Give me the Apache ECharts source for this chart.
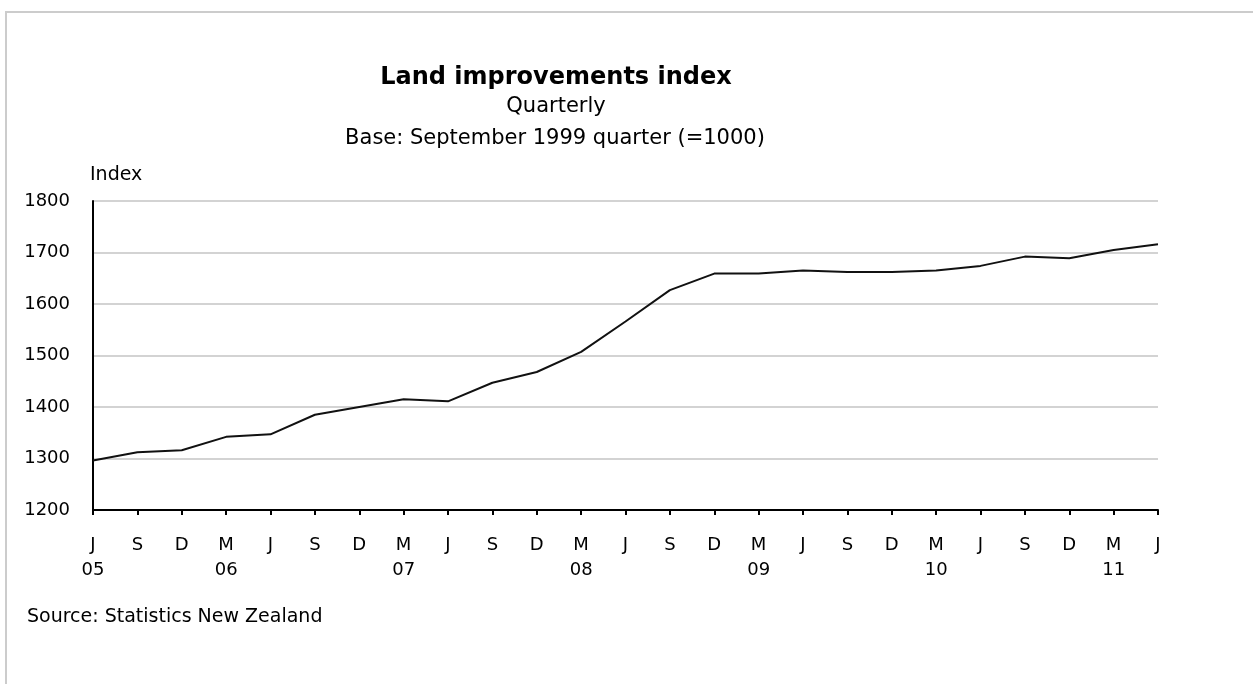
<!DOCTYPE html>
<html>
<head>
<meta charset="utf-8">
<title>Land improvements index</title>
<script src="https://cdn.jsdelivr.net/npm/echarts@6/dist/echarts.min.js"></script>
<style>
  html, body { margin: 0; padding: 0; background: #fff; }
  #chart { width: 1253px; height: 684px; }
</style>
</head>
<body>
<div id="chart"></div>
<script>
  // quarterly points, June 2005 .. June 2011
  const quarters = ['J', 'S', 'D', 'M', 'J', 'S', 'D', 'M', 'J', 'S', 'D', 'M', 'J',
    'S', 'D', 'M', 'J', 'S', 'D', 'M', 'J', 'S', 'D', 'M', 'J']
  const yearLabels = ['05', '', '', '06', '', '', '', '07', '', '', '', '08', '',
    '', '', '09', '', '', '', '10', '', '', '', '11', '']
  const indexValues = [1296, 1312, 1316, 1342, 1347, 1385, 1400, 1415, 1411, 1447,
    1468, 1507, 1566, 1627, 1659, 1659, 1665, 1662, 1662, 1665, 1674, 1692, 1689, 1705, 1716]
  const yTicks = [1200, 1300, 1400, 1500, 1600, 1700, 1800]

  const categories = quarters.map((q, i) => q + '\n' + yearLabels[i])
  const font = 'DejaVu Sans'

  const chart = echarts.init(document.getElementById('chart'), null, { renderer: 'canvas' })
  const option = {
    backgroundColor: '#fff',
    animation: false,
    grid: { left: 93, right: 95, top: 201, bottom: 174, containLabel: false },
    graphic: [
      // frame round the picture
      { type: 'rect', shape: { x: 6, y: 12, width: 1400, height: 800 },
        style: { fill: 'none', stroke: '#cccccc', lineWidth: 2 }, silent: true },
      { type: 'text', x: 556, y: 78,
        style: { text: 'Land improvements index', font: 'bold 24px ' + font, fill: '#000',
          textAlign: 'center', textVerticalAlign: 'middle' } },
      { type: 'text', x: 556, y: 107,
        style: { text: 'Quarterly', font: '21px ' + font, fill: '#000',
          textAlign: 'center', textVerticalAlign: 'middle' } },
      { type: 'text', x: 555, y: 139,
        style: { text: 'Base: September 1999 quarter (=1000)', font: '21px ' + font, fill: '#000',
          textAlign: 'center', textVerticalAlign: 'middle' } },
      { type: 'text', x: 90, y: 175,
        style: { text: 'Index', font: '19px ' + font, fill: '#000',
          textAlign: 'left', textVerticalAlign: 'middle' } },
      { type: 'text', x: 27, y: 617,
        style: { text: 'Source: Statistics New Zealand', font: '19px ' + font, fill: '#000',
          textAlign: 'left', textVerticalAlign: 'middle' } }
    ],
    xAxis: {
      type: 'category',
      data: categories,
      boundaryGap: false,
      axisLine: { lineStyle: { color: '#000', width: 2 } },
      axisTick: { show: true, length: 5, interval: 0, lineStyle: { color: '#000', width: 2 } },
      axisLabel: {
        interval: 0, margin: 23, color: '#000', fontFamily: font, fontSize: 18,
        lineHeight: 25, verticalAlign: 'top'
      },
      splitLine: { show: false }
    },
    yAxis: {
      type: 'value',
      min: yTicks[0],
      max: yTicks[yTicks.length - 1],
      interval: 100,
      axisLine: { show: true, lineStyle: { color: '#000', width: 2 } },
      axisTick: { show: false },
      axisLabel: {
        margin: 23, color: '#000', fontFamily: font, fontSize: 18,
        formatter: (v) => String(v)
      },
      splitLine: { show: true, lineStyle: { color: '#c4c4c4', width: 1.5 } }
    },
    series: [
      {
        name: 'Land improvements index',
        type: 'line',
        data: indexValues,
        symbol: 'none',
        smooth: false,
        lineStyle: { color: '#111', width: 2 }
      }
    ]
  }
  chart.setOption(option)
</script>
</body>
</html>
